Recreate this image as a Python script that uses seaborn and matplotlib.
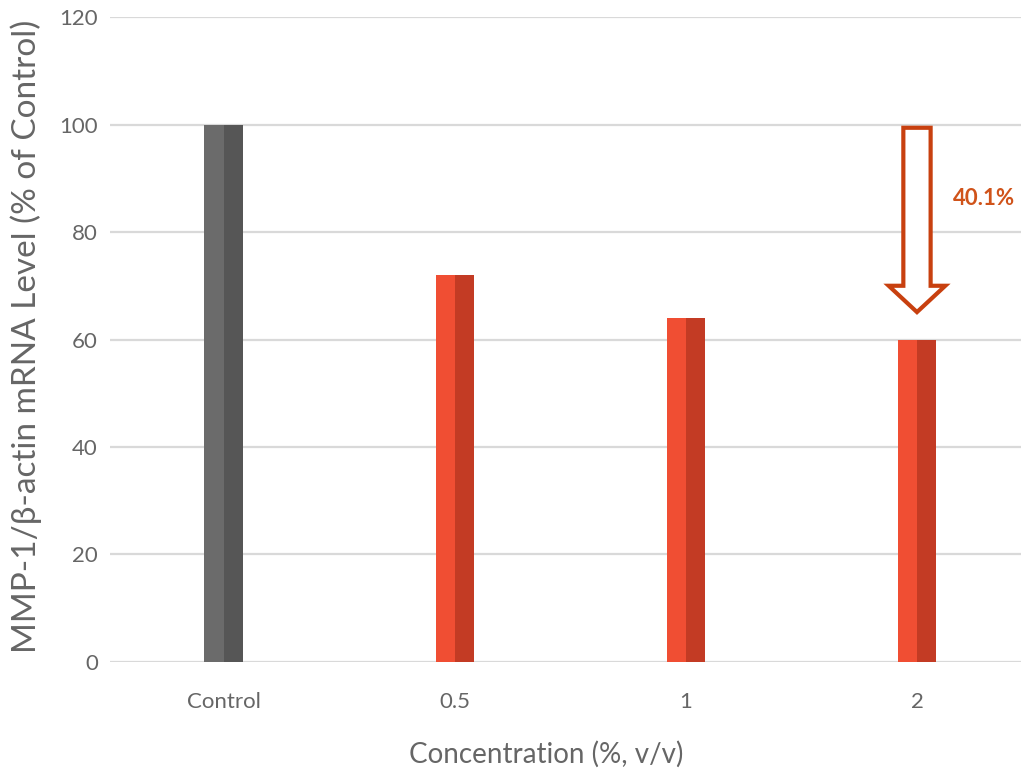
import numpy as np
import pandas as pd
import seaborn as sns
import matplotlib.pyplot as plt
from matplotlib.patches import FancyArrow

categories = ["Control", "0.5", "1", "2"]
mrna_level = [100.0, 72.0, 64.0, 59.9]
light_colors = ["#6b6b6b", "#f04e33", "#f04e33", "#f04e33"]
dark_colors = ["#565656", "#c33b24", "#c33b24", "#c33b24"]
reduction_label = "40.1%"

sns.set_theme(style="white")
plt.rcParams["font.family"] = ["Lato", "DejaVu Sans"]

# each bar is split into a light left half and a dark right half
df = pd.DataFrame({
    "cat": categories * 2,
    "value": mrna_level * 2,
    "side": ["L"] * len(categories) + ["R"] * len(categories),
})

fig = plt.figure(figsize=(10.21, 7.76), dpi=100)
ax = fig.add_axes([0.108, 0.147, 0.892, 0.831])
ax.yaxis.grid(True, color="#d9d9d9", linewidth=1.6)
ax.set_axisbelow(True)

sns.barplot(data=df, x="cat", y="value", hue="side", dodge=True,
            width=0.165, gap=0, order=categories, legend=False, ax=ax,
            saturation=1)

n = len(categories)
for i, p in enumerate(ax.patches[:2 * n]):
    k = i % n
    p.set_facecolor(light_colors[k] if i < n else dark_colors[k])
    p.set_edgecolor("none")

ax.set_ylim(0, 120)
ax.set_yticks(range(0, 121, 20))
ax.set_xlim(-0.49, 3.45)
for s in ax.spines.values():
    s.set_visible(False)

ax.tick_params(axis="y", labelsize=16, labelcolor="#666666", pad=9, length=0)
ax.tick_params(axis="x", labelsize=16, labelcolor="#666666", pad=22, length=0)
ax.set_xlabel("Concentration (%, v/v)", fontsize=20, color="#666666")
ax.xaxis.set_label_coords(0.479, -0.122)
ax.set_ylabel("MMP-1/β-actin mRNA Level (% of Control)", fontsize=24,
              color="#666666")
ax.yaxis.set_label_coords(-0.075, 0.505)

# hollow arrow above the last bar
top = 99.4
tip = 65.1
ax.add_patch(FancyArrow(3, top, 0, tip - top, width=0.118, head_width=0.245,
                        head_length=4.9, length_includes_head=True,
                        facecolor="white", edgecolor="#c8400f", linewidth=3))
ax.text(3.29, 86.3, reduction_label, fontsize=16, fontweight="bold",
        color="#d0531a", ha="center", va="center")

fig.savefig("out.png", dpi=100)
